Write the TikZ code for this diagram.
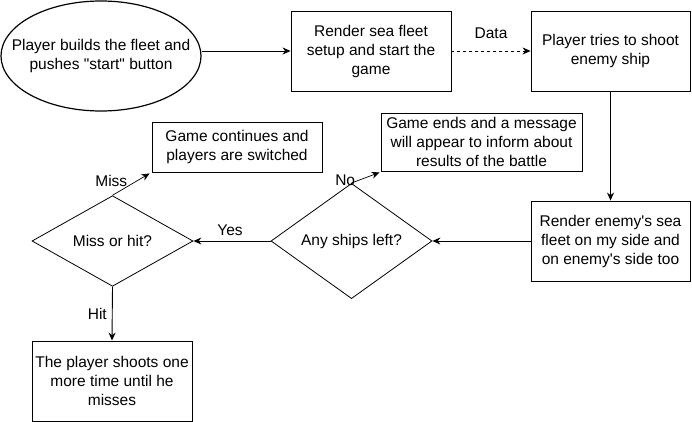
\documentclass[tikz,border=0pt]{standalone}
\usepackage{fontspec}
\setmainfont{Liberation Sans}
\usetikzlibrary{shapes.geometric,arrows.meta}
\begin{document}
\begin{tikzpicture}[x=1pt,y=-1pt,
  font=\fontsize{15.5}{19}\selectfont,
  box/.style={draw,line width=0.9pt,rectangle,inner sep=0pt,align=center},
  dia/.style={draw,line width=0.8pt,diamond,inner sep=0pt,align=center,minimum width=161pt,minimum height=80pt},
  arr/.style={draw,line width=0.9pt,-{Stealth[length=8pt,width=7pt]}},
  lbl/.style={inner sep=0pt}]
\useasboundingbox (0,0) rectangle (692,422);
\node[draw,line width=1.2pt,ellipse,inner xsep=-20pt,inner ysep=0pt,minimum width=200pt,minimum height=110pt,align=center] (start) at (101,56) {Player builds the fleet and\\pushes \textquotedbl start\textquotedbl\ button};
\node[box,minimum width=160pt,minimum height=80pt] (render) at (371,51) {Render sea fleet\\setup and start the\\game};
\node[box,minimum width=159pt,minimum height=80pt] (shoot) at (610.5,51) {Player tries to shoot\\enemy ship};
\node[box,minimum width=159pt,minimum height=80pt] (enemy) at (610.5,241) {Render enemy\textquotesingle s sea\\fleet on my side and\\on enemy\textquotesingle s side too};
\node[dia] (any) at (351.5,241) {Any ships left?};
\node[box,minimum width=201pt,minimum height=58pt] (ends) at (481.5,142) {Game ends and a message\\will appear to inform about\\results of the battle};
\node[dia] (miss) at (112.5,241) {Miss or hit?};
\node[box,minimum width=170pt,minimum height=50pt] (cont) at (237,147) {Game continues and\\players are switched};
\node[box,minimum width=160pt,minimum height=80pt] (more) at (112,381) {The player shoots one\\more time until he\\misses};
\draw[arr] (render.west -| start.east) -- (render.west);
\draw[arr,dashed,line width=0.7pt] (render.east) -- (shoot.west) node[lbl,midway,above=12pt] {Data};
\draw[arr] (shoot.south) -- (enemy.north);
\draw[arr] (enemy.west) -- (any.east);
\draw[arr] (any.west) -- (miss.east) node[lbl,midway,above=5pt,xshift=-2pt] {Yes};
\draw[arr,line width=0.7pt] (any.north) -- ([xshift=-1pt,yshift=-1pt]ends.south west) node[lbl,pos=0.71,left=16pt,yshift=-5pt] {No};
\draw[arr,line width=0.7pt] (miss.north) -- ([xshift=-2pt,yshift=-1pt]cont.south west) node[lbl,pos=0.65,left=9pt] {Miss};
\draw[arr] (miss.south) -- (more.north) node[lbl,midway,left=5pt] {Hit};
\end{tikzpicture}
\end{document}
